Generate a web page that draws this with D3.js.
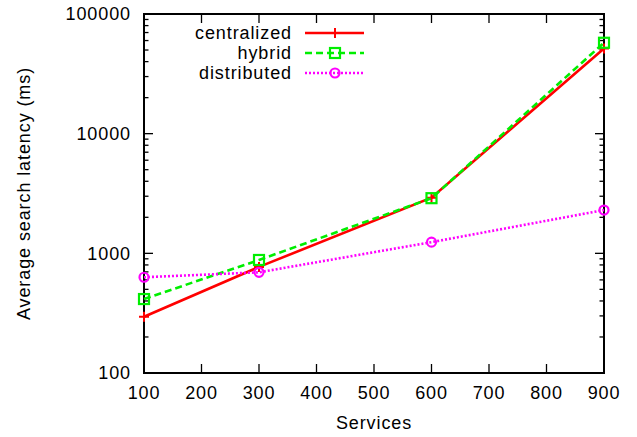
<!DOCTYPE html>
<html><head><meta charset="utf-8">
<script src="https://cdn.jsdelivr.net/npm/d3@7"></script>
<style>body{margin:0;background:#fff}svg{display:block}text{font-family:"Liberation Sans",Arial,sans-serif;fill:#000;letter-spacing:0.9px}</style>
</head><body><svg id="c" width="637" height="437"></svg>
<script>
const services = [100, 300, 600, 900];
const centralized = [295, 770, 2920, 51500];
const hybrid = [415, 880, 2890, 57500];
const distributed = [631, 694, 1240, 2300];
const xTicks = [100, 200, 300, 400, 500, 600, 700, 800, 900];
const yTicks = [100, 1000, 10000, 100000];
const seriesNames = ["centralized", "hybrid", "distributed"];

const svg = d3.select("#c");
const L = 144, R = 604, T = 14, B = 373;
const x = d3.scaleLinear().domain([100, 900]).range([L, R]);
const y = d3.scaleLog().domain([100, 100000]).range([B, T]);
const FS = 18;

const minor = [];
for (let d = 100; d < 100000; d *= 10) for (let k = 2; k <= 9; k++) minor.push(d * k);
const g = svg.append("g");
minor.forEach(v => {
  g.append("line").attr("x1", L).attr("x2", L + 4.5).attr("y1", y(v)).attr("y2", y(v)).attr("stroke", "#000").attr("stroke-width", 1.3);
  g.append("line").attr("x1", R).attr("x2", R - 4.5).attr("y1", y(v)).attr("y2", y(v)).attr("stroke", "#000").attr("stroke-width", 1.3);
});
yTicks.forEach(v => {
  g.append("line").attr("x1", L).attr("x2", L + 9).attr("y1", y(v)).attr("y2", y(v)).attr("stroke", "#000").attr("stroke-width", 1.3);
  g.append("line").attr("x1", R).attr("x2", R - 9).attr("y1", y(v)).attr("y2", y(v)).attr("stroke", "#000").attr("stroke-width", 1.3);
  g.append("text").attr("x", 131).attr("y", y(v)).attr("dy", "0.36em").attr("text-anchor", "end").attr("font-size", FS).text(v);
});
xTicks.forEach(v => {
  g.append("line").attr("x1", x(v)).attr("x2", x(v)).attr("y1", B).attr("y2", B - 9).attr("stroke", "#000").attr("stroke-width", 1.3);
  g.append("line").attr("x1", x(v)).attr("x2", x(v)).attr("y1", T).attr("y2", T + 9).attr("stroke", "#000").attr("stroke-width", 1.3);
  g.append("text").attr("x", x(v)).attr("y", 393).attr("dy", "0.36em").attr("text-anchor", "middle").attr("font-size", FS).text(v);
});
svg.append("rect").attr("x", L).attr("y", T).attr("width", R - L).attr("height", B - T).attr("fill", "none").attr("stroke", "#000").attr("stroke-width", 2);

svg.append("text").attr("x", (L + R) / 2).attr("y", 423).attr("dy", "0.36em").attr("text-anchor", "middle").attr("font-size", FS).text("Services");
svg.append("text").attr("transform", `translate(24,${(T + B) / 2}) rotate(-90)`).attr("dy", "0.36em").attr("text-anchor", "middle").attr("font-size", FS).text("Average search latency (ms)");

const styles = [
  {color: "#ff0000", dash: null, marker: "plus"},
  {color: "#00ee00", dash: "7,4", marker: "square"},
  {color: "#ff00ff", dash: "2,2", marker: "circle"}
];
const data = [centralized, hybrid, distributed];
const line = d3.line().x((d, i) => x(services[i])).y(d => y(d));

function marker(sel, type, cx, cy, color) {
  if (type === "plus") {
    sel.append("path").attr("d", `M${cx - 5},${cy}H${cx + 5}M${cx},${cy - 5}V${cy + 5}`).attr("stroke", color).attr("stroke-width", 2);
  } else if (type === "square") {
    sel.append("rect").attr("x", cx - 5).attr("y", cy - 5).attr("width", 10).attr("height", 10).attr("fill", "none").attr("stroke", color).attr("stroke-width", 2.2);
  } else {
    sel.append("circle").attr("cx", cx).attr("cy", cy).attr("r", 4.5).attr("fill", "none").attr("stroke", color).attr("stroke-width", 2.2);
  }
}

data.forEach((vals, s) => {
  const st = styles[s];
  const gg = svg.append("g");
  gg.append("path").attr("d", line(vals)).attr("fill", "none").attr("stroke", st.color).attr("stroke-width", 2.6).attr("stroke-dasharray", st.dash);
  vals.forEach((v, i) => marker(gg, st.marker, x(services[i]), y(v), st.color));
  const ly = 33 + s * 20;
  svg.append("text").attr("x", 292).attr("y", ly).attr("dy", "0.36em").attr("text-anchor", "end").attr("font-size", FS).text(seriesNames[s]);
  svg.append("line").attr("x1", 305).attr("x2", 364).attr("y1", ly).attr("y2", ly).attr("stroke", st.color).attr("stroke-width", 2.6).attr("stroke-dasharray", st.dash);
  marker(svg, st.marker, 335, ly, st.color);
});
</script></body></html>
